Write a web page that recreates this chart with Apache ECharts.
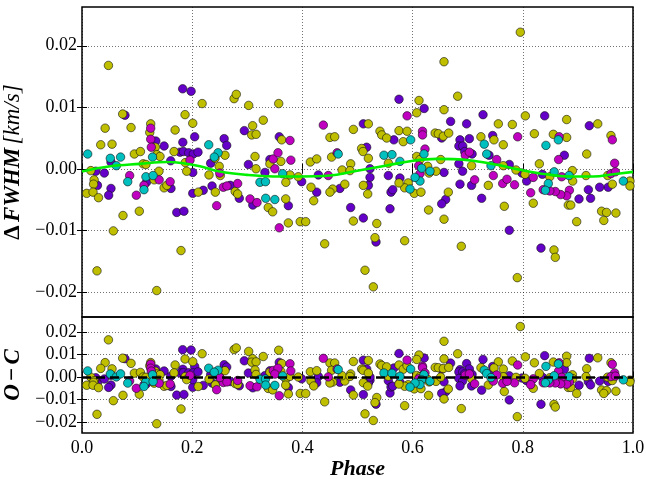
<!DOCTYPE html>
<html><head><meta charset="utf-8">
<script src="https://cdn.jsdelivr.net/npm/echarts@6/dist/echarts.min.js"></script>
<style>html,body{margin:0;padding:0;background:#fff}#c{width:646px;height:479px}</style>
</head><body><div id="c"></div>
<script>
// ---- tick labels ----
const xTicks = [0, 0.2, 0.4, 0.6, 0.8, 1.0];
const yTicksTop = [-0.02, -0.01, 0, 0.01, 0.02];
const yTicksBottom = [-0.02, -0.01, 0, 0.01, 0.02];

// ---- data: [phase, ΔFWHM (km/s)] ----
const olivePts = [
[0.016,-0.0003],[0.0085,-0.0040],[0.022,-0.0018],[0.021,-0.0025],[0.020,-0.0038],[0.030,-0.0047],
[0.042,0.0066],[0.034,0.0039],[0.048,0.0168],[0.0545,0.0040],[0.0738,0.0089],[0.0569,-0.0101],
[0.0744,-0.0076],[0.089,0.0067],[0.095,0.0024],[0.106,0.0028],[0.104,-0.0069],[0.111,0.0008],
[0.1247,0.0073],[0.123,0.0059],[0.133,0.0035],[0.136,0.0023],[0.116,0.0007],[0.131,-0.0018],
[0.1416,0.0020],[0.1397,-0.0004],[0.149,-0.0031],[0.154,-0.0027],[0.169,0.0063],[0.167,0.0028],
[0.187,0.0088],[0.201,0.0074],[0.1875,0.0010],[0.190,-0.0004],[0.211,-0.0038],[0.218,0.0106],
[0.2305,-0.0010],[0.2414,0.0017],[0.242,-0.0038],[0.249,0.0004],[0.251,-0.0011],[0.2595,0.0022],
[0.278,-0.0037],[0.2825,-0.0041],[0.276,0.0114],[0.280,0.0121],[0.3025,0.0103],[0.3097,0.0070],
[0.308,0.0055],[0.316,0.0056],[0.329,0.0079],[0.314,0.0020],[0.3158,0.0000],[0.341,0.0008],
[0.357,0.0106],[0.3624,0.0047],[0.361,0.0012],[0.370,-0.0022],[0.3775,-0.0010],[0.338,-0.0063],
[0.346,-0.0070],[0.3697,-0.0049],[0.3745,-0.0088],[0.396,-0.0086],[0.406,-0.0086],[0.3926,-0.0013],
[0.4144,0.0011],[0.426,0.0016],[0.4156,-0.0030],[0.4205,-0.0052],[0.450,0.0051],[0.4586,0.0052],
[0.4925,0.0064],[0.5197,0.0073],[0.5075,0.0033],[0.510,0.0028],[0.5197,0.0017],[0.5408,0.0061],
[0.544,0.0055],[0.553,0.0050],[0.5753,0.0062],[0.583,0.0044],[0.590,0.0061],[0.6116,0.0111],
[0.6075,0.0091],[0.657,0.0174],[0.657,0.0096],[0.6818,0.0118],[0.7556,0.0073],[0.781,0.0072],
[0.8046,0.0086],[0.8796,0.0080],[0.7955,0.0222],[0.936,0.0073],[0.960,0.0054],[0.641,0.0058],
[0.6467,0.0057],[0.6557,0.0053],[0.6655,0.0058],[0.724,0.0052],[0.7477,0.0047],[0.7646,0.0039],
[0.821,0.0057],[0.8554,0.0056],[0.8796,0.0051],[0.916,0.0024],[0.707,0.0005],[0.7646,0.0005],
[0.7877,-0.0002],[0.804,-0.0009],[0.830,0.0008],[0.849,-0.0013],[0.890,-0.0003],[0.8905,-0.0020],
[0.9147,-0.0011],[0.954,-0.0011],[0.9945,-0.0020],[0.9945,-0.0028],[0.9625,-0.0025],[0.8978,-0.0086],
[0.943,-0.0069],[0.952,-0.0071],[0.969,-0.0072],[0.947,-0.0084],[0.8826,-0.0059],[0.887,-0.0059],
[0.819,-0.0056],[0.7664,-0.0061],[0.7374,-0.0027],[0.6075,0.0020],[0.6134,0.0015],[0.6273,0.0004],
[0.6425,-0.0004],[0.630,-0.0007],[0.592,-0.0023],[0.603,-0.0040],[0.6152,-0.0038],[0.5856,-0.0031],
[0.651,0.0015],[0.6648,-0.0038],[0.657,-0.0082],[0.629,-0.0067],[0.4925,-0.0085],[0.535,-0.0089],
[0.5106,-0.0027],[0.5185,-0.0041],[0.477,-0.0025],[0.455,-0.0033],[0.450,-0.0038],[0.4876,0.0008],
[0.472,-0.0002],[0.4864,-0.0003],[0.556,0.0009],[0.5753,-0.0023],[0.453,0.0019],[0.1797,-0.0133],
[0.0272,-0.0166],[0.1356,-0.0198],[0.4404,-0.0122],[0.5317,-0.0112],[0.5856,-0.0117],[0.6884,-0.0126],
[0.5136,-0.0165],[0.5287,-0.0192],[0.790,-0.0177],[0.8566,-0.0132],[0.859,-0.0144]
];
const purplePts = [
[0.028,-0.0027],[0.025,-0.0004],[0.0405,-0.0007],[0.0526,0.0011],[0.0526,-0.0032],[0.0484,-0.0043],
[0.078,0.0087],[0.134,0.0045],[0.117,-0.0022],[0.149,0.0037],[0.1615,-0.0032],[0.161,0.0013],
[0.172,-0.0071],[0.185,-0.0069],[0.1827,0.0130],[0.198,0.0126],[0.183,0.0043],[0.2045,0.0052],
[0.178,0.0027],[0.184,0.0028],[0.1936,0.0026],[0.202,0.0024],[0.2105,0.0027],[0.201,-0.0040],
[0.220,-0.0035],[0.201,-0.0006],[0.236,-0.0028],[0.2335,0.0009],[0.258,0.0049],[0.2626,0.0038],
[0.269,-0.0027],[0.2855,-0.0048],[0.2946,0.0062],[0.302,0.0007],[0.310,-0.0059],[0.332,-0.0006],
[0.341,0.0015],[0.358,0.0052],[0.3745,-0.0060],[0.3987,-0.0021],[0.429,-0.0010],[0.426,-0.0038],
[0.5106,0.0073],[0.5166,0.0035],[0.566,0.0047],[0.5753,0.0113],[0.621,0.0098],[0.669,0.0077],
[0.698,0.0073],[0.7278,0.0088],[0.8397,0.0086],[0.9207,0.0070],[0.6528,0.0050],[0.7453,0.0054],
[0.8754,0.0022],[0.686,0.0047],[0.703,0.0049],[0.684,0.0037],[0.691,0.0037],[0.6945,0.0028],
[0.708,0.0024],[0.7387,0.0022],[0.684,0.0008],[0.6907,-0.0004],[0.7755,0.0007],[0.7985,-0.0007],
[0.807,-0.0020],[0.8355,-0.0009],[0.955,-0.0030],[0.9395,-0.0030],[0.919,-0.0034],[0.923,-0.0048],
[0.902,-0.0049],[0.7755,-0.0100],[0.7253,-0.0048],[0.707,-0.0027],[0.686,-0.0025],[0.657,-0.0006],
[0.660,-0.0050],[0.6528,-0.0057],[0.559,-0.0065],[0.4876,-0.0063],[0.5106,-0.0080],[0.5227,-0.0014],
[0.5197,-0.0027],[0.468,-0.0032],[0.5227,0.0000],[0.556,-0.0011],[0.577,-0.0015],[0.5608,-0.0038],
[0.564,-0.0034],[0.5336,-0.0119],[0.833,-0.0129]
];
const magentaPts = [
[0.0865,-0.0011],[0.0986,-0.0043],[0.1247,0.0066],[0.1247,0.0048],[0.1258,0.0035],[0.1125,-0.0027],
[0.140,-0.0018],[0.160,-0.0021],[0.196,0.0014],[0.2444,-0.0060],[0.2565,-0.0030],[0.263,-0.0028],
[0.2825,-0.0024],[0.305,-0.0049],[0.3176,-0.0055],[0.347,0.0016],[0.3557,0.0026],[0.3775,0.0046],
[0.379,0.0014],[0.358,-0.0096],[0.438,0.0071],[0.590,0.0086],[0.618,0.0061],[0.618,0.0055],
[0.7907,0.0052],[0.866,0.0052],[0.9625,0.0047],[0.9667,0.0009],[0.865,0.0015],[0.6957,0.0022],
[0.703,0.0027],[0.7526,0.0015],[0.7465,-0.0011],[0.7635,-0.0024],[0.785,-0.0026],[0.7713,-0.0017],
[0.819,-0.0014],[0.8706,-0.0013],[0.960,-0.0008],[0.968,-0.0005],[0.8845,-0.0035],[0.8796,-0.0044],
[0.8687,-0.0042],[0.859,-0.0037],[0.849,-0.0036],[0.837,-0.0034],[0.8143,-0.0039],[0.7126,-0.0018],
[0.6225,0.0032],[0.611,0.0005],[0.6134,-0.0008],[0.447,-0.0011],[0.463,0.0026],[0.350,0.0000],
[0.250,-0.0007]
];
const cyanPts = [
[0.0103,0.0024],[0.0514,0.0017],[0.0623,0.0005],[0.070,0.0019],[0.083,-0.0021],[0.128,0.0019],
[0.116,-0.0013],[0.129,-0.0011],[0.1125,-0.0034],[0.230,0.0039],[0.247,0.0026],[0.240,0.0019],
[0.323,-0.0022],[0.333,-0.0021],[0.3642,-0.0008],[0.3334,-0.0048],[0.350,-0.0050],[0.5965,0.0047],
[0.842,0.0038],[0.8645,0.0047],[0.730,0.0040],[0.7345,0.0024],[0.7423,0.0005],[0.857,-0.0005],
[0.884,-0.0011],[0.9825,-0.0020],[0.8463,-0.0024],[0.841,-0.0035],[0.6207,0.0024],[0.6165,0.0001],
[0.6134,-0.0020],[0.6316,-0.0004],[0.6044,-0.0014],[0.5953,-0.0033],[0.548,0.0022],[0.5626,0.0023],
[0.577,0.0012],[0.465,0.0024]
];
// fitted model curve (green)
const modelPts = [
[0,-0.00044],[0.051,0.0004],[0.105,0.0008],[0.154,0.0011],[0.184,0.0009],[0.214,0.0004],
[0.25,-0.00044],[0.299,-0.0010],[0.347,-0.00125],[0.396,-0.00125],[0.45,-0.0011],[0.492,-0.00044],
[0.553,0.00054],[0.601,0.0013],[0.644,0.0016],[0.674,0.00157],[0.71,0.0013],[0.753,0.00065],
[0.795,-0.00016],[0.843,-0.0009],[0.886,-0.00125],[0.928,-0.00125],[0.964,-0.0009],[1.0,-0.0005]
];

// O - C : observed minus the model curve at the same phase
function modelAt(p) {
  for (let i = 0; i < modelPts.length - 1; i++) {
    const a = modelPts[i], b = modelPts[i + 1];
    if (p >= a[0] && p <= b[0]) return a[1] + (b[1] - a[1]) * (p - a[0]) / (b[0] - a[0]);
  }
  return modelPts[modelPts.length - 1][1];
}
const resid = pts => pts.map(d => [d[0], d[1] - modelAt(d[0])]);

const FONT = 'Liberation Serif';
const colors = { purple: '#6400c8', olive: '#bfbf00', magenta: '#c000c0', cyan: '#00bfbf' };
const order = [['purple', purplePts], ['olive', olivePts], ['magenta', magentaPts], ['cyan', cyanPts]];

const fmtY = v => v.toFixed(2).replace('-', '\u2212');
const fmtX = v => v.toFixed(1);
const grid = 'rgba(0,0,0,0.55)';

function xAx(gi, pos, labels, extra) {
  return Object.assign({
    gridIndex: gi, type: 'value', min: 0, max: 1, position: pos,
    axisLine: { show: false },
    axisTick: { show: true, inside: true, length: 5, customValues: xTicks, lineStyle: { color: '#000', width: 1 } },
    axisLabel: { show: labels, customValues: xTicks, formatter: fmtX, fontFamily: FONT, fontSize: 18, color: '#000', margin: 6 },
    splitLine: { show: pos === 'bottom', lineStyle: { color: grid, type: [1, 2], width: 1 } }
  }, extra || {});
}
function yAx(gi, pos, mn, mx, ticks, extra) {
  return Object.assign({
    gridIndex: gi, type: 'value', min: mn, max: mx, position: pos,
    axisLine: { show: false },
    axisTick: { show: true, inside: true, length: 5, customValues: ticks, lineStyle: { color: '#000', width: 1 } },
    axisLabel: { show: pos === 'left', customValues: ticks, formatter: fmtY, fontFamily: FONT, fontSize: 18, color: '#000', margin: 5 },
    splitLine: { show: pos === 'left', lineStyle: { color: grid, type: [1, 2], width: 1 } }
  }, extra || {});
}

const series = [];
order.forEach(([k, pts]) => {
  series.push({ type: 'scatter', xAxisIndex: 0, yAxisIndex: 0, data: pts, symbolSize: 8.5,
    itemStyle: { color: colors[k], borderColor: '#111', borderWidth: 0.6, opacity: 1 }, z: 3 });
});
series.push({ type: 'line', xAxisIndex: 0, yAxisIndex: 0, data: modelPts, smooth: 0.4, showSymbol: false,
  lineStyle: { color: '#00f000', width: 2.6 }, z: 5 });
order.forEach(([k, pts]) => {
  series.push({ type: 'scatter', xAxisIndex: 2, yAxisIndex: 2, data: resid(pts), symbolSize: 8.5,
    itemStyle: { color: colors[k], borderColor: '#111', borderWidth: 0.6, opacity: 1 }, z: 3 });
});
series.push({ type: 'line', xAxisIndex: 2, yAxisIndex: 2, data: [], z: 6,
  markLine: { silent: true, symbol: 'none', label: { show: false },
    lineStyle: { color: '#000', type: [9, 5], width: 2.6 }, data: [{ yAxis: 0 }] } });

const nameRich = {
  d: { fontFamily: FONT, fontWeight: 'bold', fontSize: 23, color: '#000' },
  b: { fontFamily: FONT, fontWeight: 'bold', fontStyle: 'italic', fontSize: 23, color: '#000' },
  i: { fontFamily: FONT, fontStyle: 'italic', fontSize: 23, color: '#000' }
};

const option = {
  animation: false,
  backgroundColor: '#fff',
  grid: [
    { left: 82, top: 7, width: 551, height: 310, show: true, borderColor: '#000', borderWidth: 1.5,
      backgroundColor: 'transparent', containLabel: false, outerBoundsMode: 'none' },
    { left: 82, top: 317, width: 551, height: 116, show: true, borderColor: '#000', borderWidth: 1.5,
      backgroundColor: 'transparent', containLabel: false, outerBoundsMode: 'none' }
  ],
  xAxis: [
    xAx(0, 'bottom', false),
    xAx(0, 'top', false),
    xAx(1, 'bottom', true, { name: '{b|Phase}', nameLocation: 'middle', nameGap: 24,
      nameTextStyle: { rich: { b: { fontFamily: FONT, fontWeight: 'bold', fontStyle: 'italic', fontSize: 22, color: '#000' } } } }),
    xAx(1, 'top', false)
  ],
  yAxis: [
    yAx(0, 'left', -0.0241, 0.0263, yTicksTop, { name: '{d|\u0394} {b|FWHM} {i|[km/s]}', nameLocation: 'middle', nameGap: 54,
      nameTextStyle: { rich: nameRich } }),
    yAx(0, 'right', -0.0241, 0.0263, yTicksTop),
    yAx(1, 'left', -0.0249, 0.0266, yTicksBottom, { name: '{b|O} {d|\u2212} {b|C}', nameLocation: 'middle', nameGap: 54,
      nameTextStyle: { rich: nameRich } }),
    yAx(1, 'right', -0.0249, 0.0266, yTicksBottom)
  ],
  series: series
};
const chart = echarts.init(document.getElementById('c'), null, { renderer: 'canvas' });
chart.setOption(option);
</script>
</body></html>
